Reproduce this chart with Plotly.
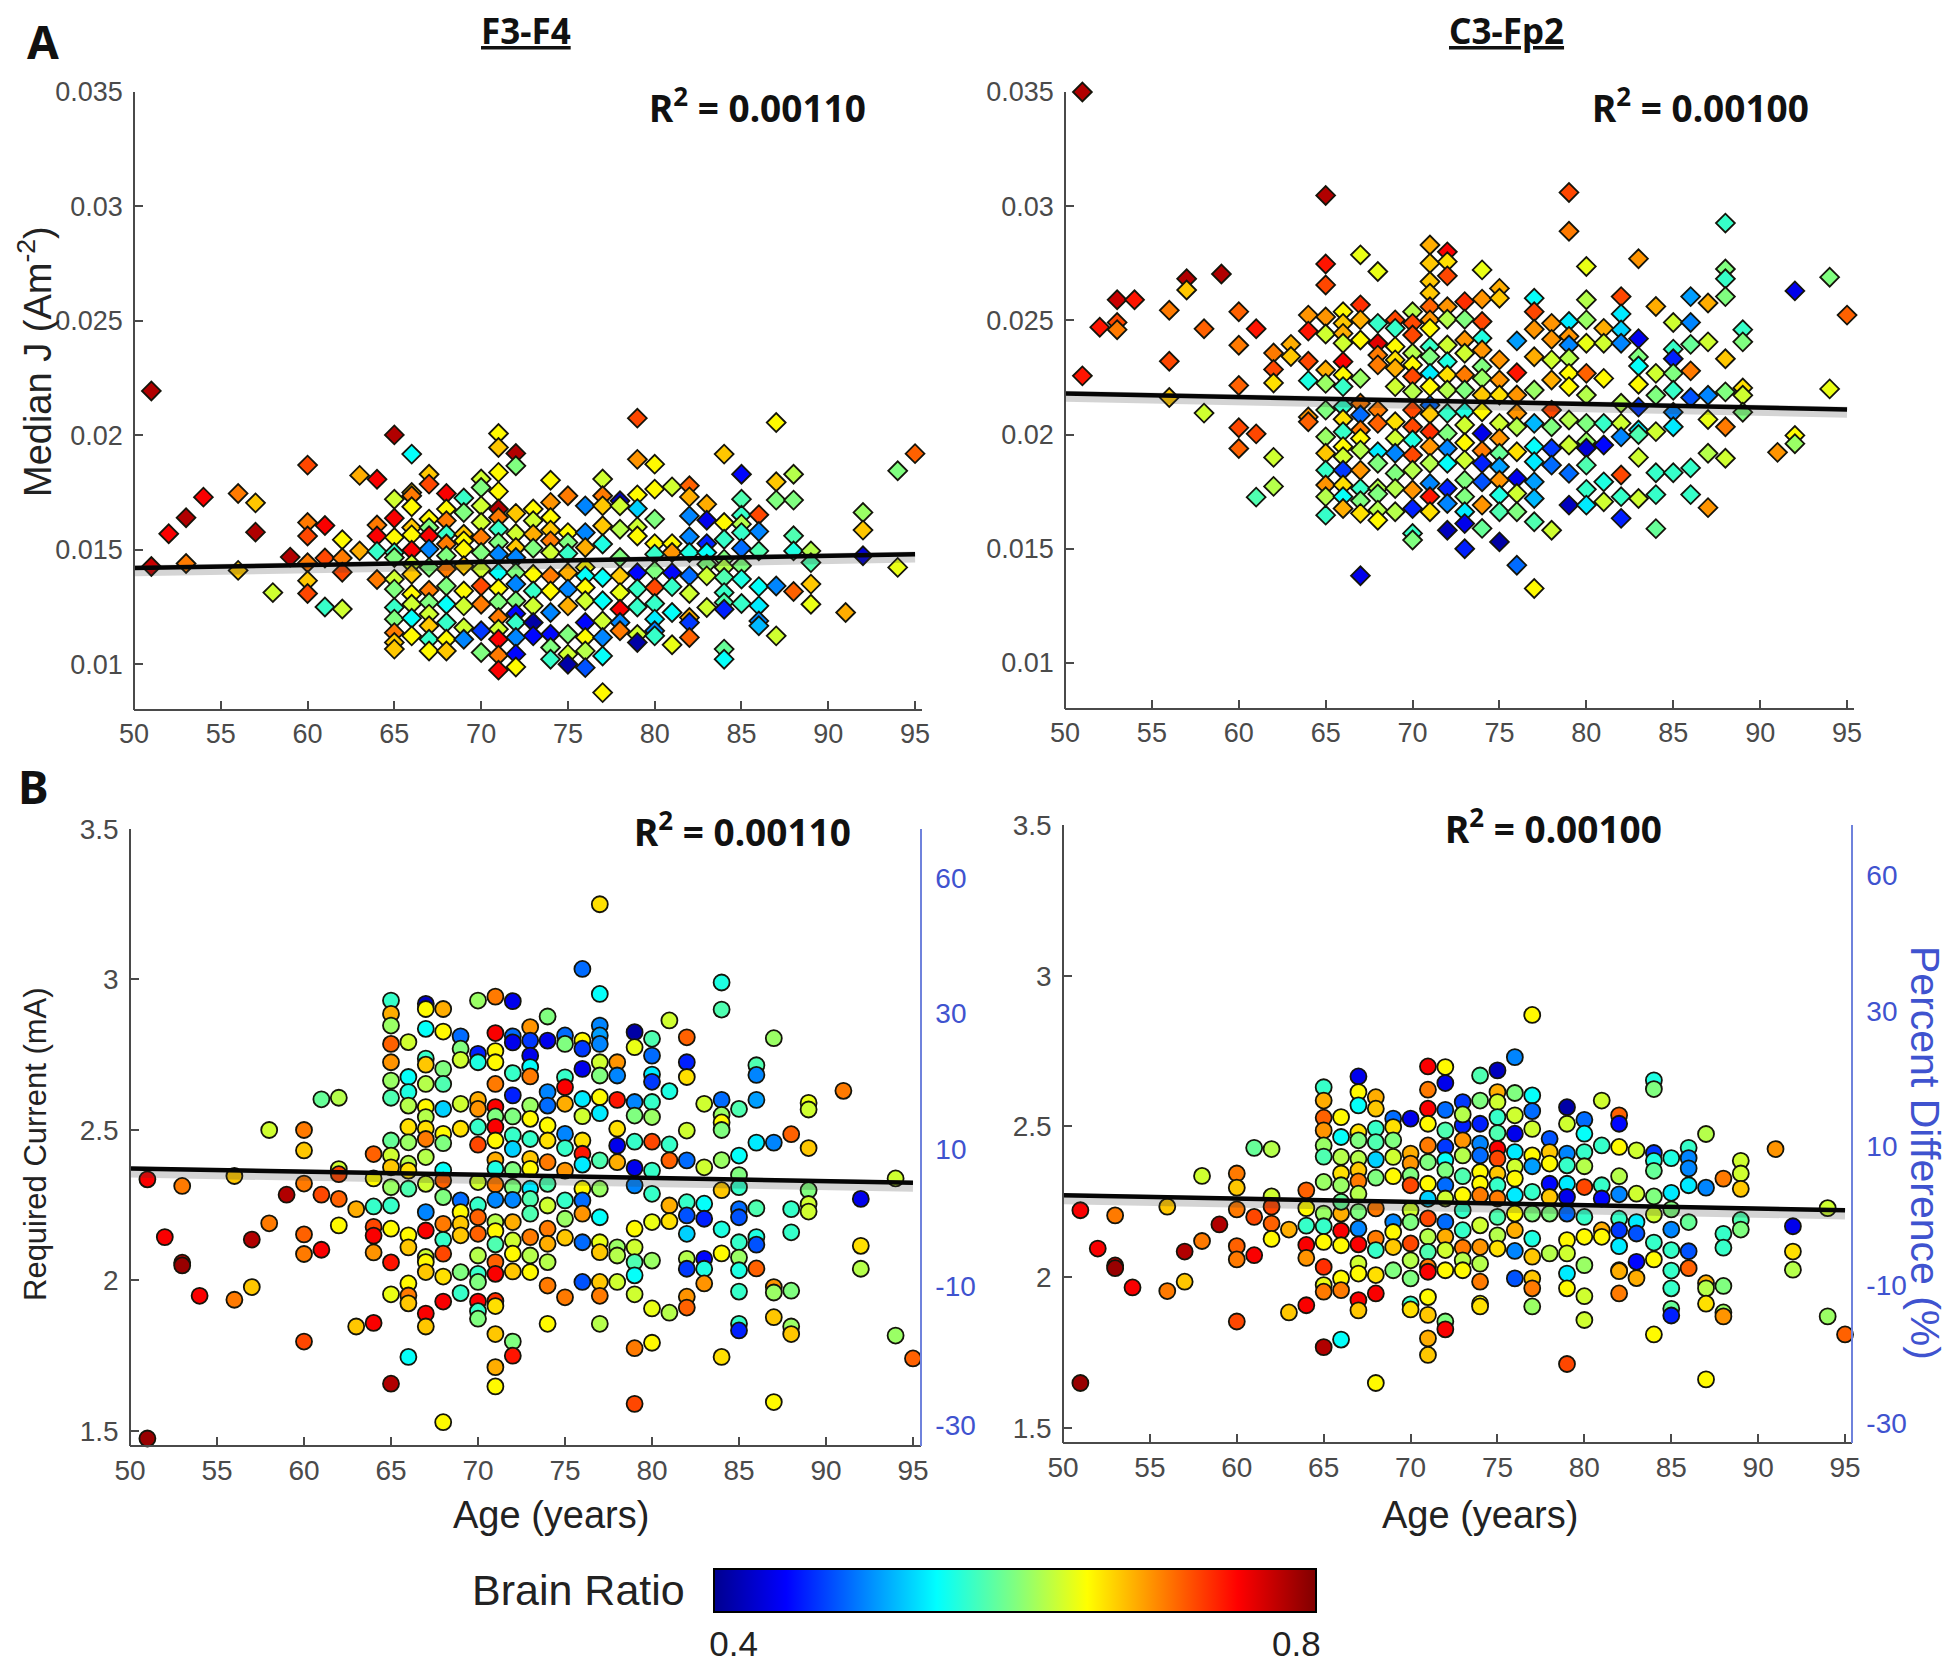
import plotly.graph_objects as go

# ---------- F3-F4 median J (values in 1e-3 A/m2) ----------
f3_age = [
51,51,
52,
53,53,
54,
56,56,
57,57,
58,
59,
60,60,60,60,60,60,
61,61,61,
62,62,62,62,
63,63,
64,64,64,64,64,
65,65,65,65,65,65,65,65,65,65,65,65,65,
66,66,66,66,66,66,66,66,66,66,66,66,66,
67,67,67,67,67,67,67,67,67,67,67,67,67,
68,68,68,68,68,68,68,68,68,68,68,68,
69,69,69,69,69,69,69,69,69,69,
70,70,70,70,70,70,70,70,70,70,70,
71,71,71,71,71,71,71,71,71,71,71,71,71,71,71,71,71,
72,72,72,72,72,72,72,72,72,72,72,72,72,72,
73,73,73,73,73,73,73,73,73,
74,74,74,74,74,74,74,74,74,74,74,74,
75,75,75,75,75,75,75,75,75,75,
76,76,76,76,76,76,76,76,76,76,76,
77,77,77,77,77,77,77,77,77,77,77,
78,78,78,78,78,78,78,78,78,
79,79,79,79,79,79,79,79,79,79,79,
80,80,80,80,80,80,80,80,80,80,80,
81,81,81,81,81,81,81,
82,82,82,82,82,82,82,82,82,82,
83,83,83,83,83,83,83,
84,84,84,84,84,84,84,84,84,84,84,
85,85,85,85,85,85,85,85,85,
86,86,86,86,86,86,86,
87,87,87,87,87,
88,88,88,88,88,
89,89,89,89,
91,
92,92,92,
94,94,
95]
f3_j = [
21.94,14.27,
15.7,
16.4,14.4,
17.3,
17.46,14.1,
17.05,15.77,
13.13,
14.68,
18.7,16.19,15.6,14.43,13.65,13.09,
16.06,14.64,12.5,
15.44,14.64,14.02,12.41,
18.25,14.95,
18.08,16.08,15.6,14.93,13.7,
20.02,17.21,16.38,15.54,14.88,14.66,13.72,13.28,12.48,11.97,11.38,10.95,10.66,
19.18,17.5,17.36,16.88,15.97,15.65,14.98,14.37,13.93,13.06,12.62,12.01,11.24,
18.3,17.87,16.34,15.97,15.61,15.03,14.23,13.23,12.7,12.19,11.68,11.09,10.58,
17.46,16.78,16.27,15.68,15.25,14.74,14.15,13.42,12.62,11.82,11.09,10.58,
17.26,16.63,15.68,15.39,15.03,14.3,13.2,12.55,11.6,11.09,
18.09,17.72,16.92,16.19,15.54,14.88,14.15,13.42,12.62,11.46,10.51,
20.08,19.47,18.38,17.55,16.78,16.41,15.9,15.32,14.81,14.0,13.31,12.72,12.04,11.53,11.09,10.39,9.74,
19.21,18.67,16.59,15.71,15.1,14.66,14.0,13.5,12.77,12.21,11.82,11.17,10.44,9.88,
16.78,16.27,15.68,15.07,13.93,13.2,12.55,11.82,11.24,
18.04,17.07,16.41,15.86,15.39,14.88,13.86,13.2,12.26,11.31,10.73,10.22,
17.36,15.75,15.32,14.84,14.0,13.28,12.55,11.31,10.44,10.0,
16.92,15.75,15.1,14.23,13.86,13.35,12.77,11.82,11.17,10.58,9.85,
18.09,17.36,16.92,16.05,15.25,13.79,12.77,11.89,11.17,10.36,8.76,
17.14,16.92,15.9,14.66,13.86,13.13,12.4,11.82,11.46,
20.75,18.95,17.4,16.8,16.0,15.6,14.0,13.3,12.5,11.3,10.95,
18.74,17.65,16.34,15.27,14.81,14.08,13.35,12.65,11.97,11.46,11.24,
17.75,15.27,14.88,14.0,13.39,12.26,10.85,
17.8,17.31,16.48,15.57,14.88,13.86,13.09,12.04,11.82,11.17,
16.99,16.29,15.27,14.88,14.37,13.86,12.48,
19.18,16.19,15.46,14.59,14.23,13.79,13.13,12.7,12.4,10.66,10.22,
18.3,17.21,16.51,16.12,15.75,15.06,14.3,13.72,12.65,
16.53,15.8,14.95,13.39,12.55,11.89,11.68,
20.56,17.97,17.17,13.42,11.24,
18.3,17.17,15.61,14.95,13.18,
14.95,14.44,13.5,12.62,
12.26,
16.63,15.86,14.74,
18.45,14.23,
19.2]
f3_ratio = [
.78,.77,
.75,
.78,.70,
.75,
.70,.67,
.67,.78,
.63,
.78,
.72,.70,.72,.70,.67,.72,
.75,.72,.57,
.65,.70,.72,.63,
.68,.68,
.75,.70,.75,.57,.70,
.78,.63,.75,.65,.57,.60,.63,.60,.57,.60,.70,.67,.67,
.55,.67,.70,.65,.67,.65,.75,.63,.67,.65,.63,.55,.65,
.67,.72,.65,.60,.75,.50,.60,.70,.60,.63,.67,.57,.65,
.75,.65,.70,.57,.70,.60,.70,.60,.55,.57,.65,.67,
.57,.60,.67,.65,.65,.67,.65,.63,.63,.50,
.63,.60,.63,.63,.70,.60,.63,.72,.70,.47,.60,
.65,.67,.65,.65,.78,.70,.57,.60,.50,.55,.65,.60,.70,.63,.75,.70,.75,
.78,.60,.67,.63,.67,.50,.60,.50,.60,.45,.57,.50,.45,.65,
.65,.63,.68,.60,.65,.57,.63,.41,.45,
.65,.69,.65,.67,.70,.63,.70,.65,.50,.45,.60,.57,
.70,.65,.60,.57,.68,.50,.68,.60,.63,.41,
.50,.50,.68,.65,.55,.65,.63,.45,.65,.62,.48,
.63,.70,.67,.67,.56,.55,.55,.63,.50,.55,.65,
.42,.63,.62,.60,.67,.64,.75,.50,.70,
.72,.69,.65,.53,.63,.65,.45,.57,.57,.63,.41,
.65,.65,.60,.65,.57,.60,.72,.57,.54,.50,.57,
.63,.65,.69,.45,.57,.55,.64,
.71,.68,.50,.50,.56,.49,.63,.68,.47,.71,
.68,.44,.46,.55,.60,.63,.63,
.67,.65,.57,.60,.62,.58,.57,.58,.46,.59,.55,
.45,.58,.57,.62,.57,.49,.60,.56,.57,
.72,.50,.58,.55,.54,.50,.52,
.65,.67,.60,.50,.63,
.62,.60,.58,.56,.71,
.62,.58,.67,.64,
.68,
.61,.67,.43,
.60,.64,
.71]

# ---------- C3-Fp2 median J (values in 1e-3 A/m2) ----------
c3_age = [
51,51,
52,
53,53,53,
54,
56,56,56,
57,57,
58,58,
59,
60,60,60,60,60,
61,61,61,
62,62,62,62,62,
63,63,
64,64,64,64,64,64,
65,65,65,65,65,65,65,65,65,65,65,65,65,65,
66,66,66,66,66,66,66,66,66,66,66,66,66,66,66,66,
67,67,67,67,67,67,67,67,67,67,67,67,67,67,67,
68,68,68,68,68,68,68,68,68,68,68,68,68,
69,69,69,69,69,69,69,69,69,69,69,69,
70,70,70,70,70,70,70,70,70,70,70,70,70,70,70,70,
71,71,71,71,71,71,71,71,71,71,71,71,71,71,71,71,71,71,71,
72,72,72,72,72,72,72,72,72,72,72,72,72,72,72,72,
73,73,73,73,73,73,73,73,73,73,73,73,73,73,73,
74,74,74,74,74,74,74,74,74,74,74,74,74,74,74,
75,75,75,75,75,75,75,75,75,75,75,75,75,
76,76,76,76,76,76,76,76,76,76,
77,77,77,77,77,77,77,77,77,77,77,77,
78,78,78,78,78,78,78,78,78,
79,79,79,79,79,79,79,79,79,79,79,79,
80,80,80,80,80,80,80,80,80,80,80,80,
81,81,81,81,81,81,81,
82,82,82,82,82,82,82,82,82,82,
83,83,83,83,83,83,83,83,83,83,
84,84,84,84,84,84,84,
85,85,85,85,85,85,85,85,
86,86,86,86,86,86,86,
87,87,87,87,87,87,
88,88,88,88,88,88,88,88,
89,89,89,89,89,
91,
92,92,92,
94,94,
95]
c3_j = [
35.0,22.57,
24.7,
25.9,24.91,24.59,
25.9,
25.44,23.21,21.62,
26.82,26.33,
24.63,20.94,
27.03,
25.38,23.91,22.15,20.3,19.39,
24.63,20.03,17.26,
23.57,22.85,22.26,19.0,17.73,
23.95,23.42,
25.23,24.53,23.21,22.36,20.77,20.56,
30.47,27.47,26.55,25.15,24.4,22.83,22.24,21.07,19.9,19.18,18.44,17.79,17.28,16.47,
25.38,24.87,24.43,24.0,23.19,22.61,22.1,21.22,20.67,20.12,19.47,19.03,18.44,17.79,17.28,16.76,
27.87,25.68,25.02,24.14,22.46,21.37,20.86,20.2,19.83,19.32,18.44,17.64,17.1,16.55,13.82,
27.14,24.87,24.0,23.48,23.05,21.07,20.49,19.25,18.74,17.64,17.4,16.69,16.25,
25.02,24.65,23.85,23.27,22.9,22.1,20.56,19.83,19.18,18.3,17.64,16.62,
25.38,24.87,24.36,23.56,23.05,22.54,21.88,21.07,20.34,19.76,19.1,18.44,17.57,16.76,15.67,15.38,
28.3,27.5,26.7,26.19,25.6,25.02,24.65,23.85,23.41,22.68,22.1,21.29,20.9,20.12,19.47,18.74,17.86,17.28,16.62,
28.0,27.57,26.95,25.6,25.05,23.92,23.19,22.61,21.95,20.93,20.05,19.39,18.74,17.64,16.98,15.81,
25.82,25.05,24.14,23.56,22.61,21.95,21.0,20.42,19.64,18.88,18.0,17.28,16.62,16.1,15.0,
27.21,25.93,24.95,24.22,23.7,22.97,22.46,21.73,21.0,20.05,19.29,18.74,17.93,16.91,15.89,
26.4,25.97,23.27,22.39,21.73,20.49,19.83,19.18,18.59,18.0,17.35,16.62,15.3,
24.1,22.71,21.73,20.93,20.34,19.25,18.08,17.42,16.62,14.28,
25.97,25.38,24.61,23.41,21.95,20.49,19.47,18.81,17.93,17.2,16.18,13.26,
24.87,24.17,23.27,22.39,21.07,20.34,19.39,18.66,15.81,
30.6,28.9,24.95,24.3,23.92,23.34,22.68,22.1,20.64,19.54,18.3,16.91,
27.36,25.9,25.02,24.0,22.68,21.73,20.49,19.69,19.4,18.66,17.6,16.91,
24.65,24.0,22.46,20.49,19.54,17.93,17.06,
26.04,25.28,24.58,24.0,21.37,20.49,19.9,18.23,17.28,16.33,
27.7,24.2,23.4,23.0,22.2,21.2,20.2,20.0,19.0,17.2,
25.61,22.68,21.72,20.13,18.33,17.37,15.88,
24.91,23.74,23.32,22.68,21.94,20.98,20.34,18.33,
26.04,24.91,23.95,22.79,21.62,18.54,17.37,
25.76,24.06,21.72,20.66,19.18,16.8,
29.26,27.25,26.82,26.04,23.32,21.87,20.34,18.96,
24.59,24.06,22.04,21.72,20.98,
19.22,
26.29,19.96,19.6,
26.89,22.0,
25.23]
c3_ratio = [
.78,.74,
.74,
.77,.72,.70,
.74,
.70,.72,.67,
.78,.67,
.71,.63,
.78,
.71,.70,.71,.72,.71,
.74,.72,.58,
.70,.72,.66,.63,.62,
.68,.67,
.69,.74,.72,.56,.69,.71,
.78,.74,.72,.69,.63,.68,.61,.60,.61,.67,.57,.69,.62,.57,
.65,.67,.68,.63,.75,.65,.57,.57,.66,.57,.65,.63,.47,.66,.55,.68,
.64,.73,.68,.65,.61,.70,.49,.70,.65,.62,.69,.57,.60,.66,.44,
.64,.57,.76,.70,.70,.70,.71,.54,.60,.62,.60,.62,.65,
.72,.57,.65,.66,.68,.63,.66,.63,.50,.60,.62,.62,
.62,.72,.72,.62,.65,.72,.62,.72,.72,.56,.72,.62,.69,.46,.57,.60,
.68,.67,.67,.67,.71,.69,.65,.57,.60,.54,.65,.49,.67,.73,.69,.62,.50,.74,.66,
.75,.66,.72,.69,.62,.63,.56,.66,.62,.57,.60,.50,.55,.46,.50,.42,
.73,.60,.69,.63,.70,.60,.56,.63,.65,.63,.60,.60,.54,.44,.46,
.64,.69,.72,.56,.69,.60,.61,.67,.65,.44,.70,.46,.48,.69,.59,
.68,.67,.69,.69,.66,.63,.69,.59,.51,.69,.56,.58,.41,
.51,.74,.69,.69,.62,.66,.44,.63,.60,.49,
.55,.72,.69,.68,.61,.52,.55,.54,.51,.52,.58,.65,
.69,.69,.63,.68,.72,.60,.47,.49,.63,
.72,.70,.54,.69,.50,.62,.65,.65,.62,.63,.49,.42,
.64,.62,.61,.64,.71,.62,.60,.61,.43,.58,.57,.54,
.68,.63,.65,.57,.45,.56,.63,
.72,.54,.53,.50,.62,.63,.50,.72,.57,.46,
.69,.44,.60,.55,.65,.47,.54,.58,.63,.63,
.68,.63,.60,.63,.57,.57,.59,
.63,.57,.46,.60,.57,.50,.54,.57,
.51,.50,.59,.70,.48,.57,.57,
.68,.63,.50,.64,.62,.69,
.57,.60,.57,.60,.67,.60,.70,.63,
.57,.60,.66,.63,.60,
.69,
.44,.65,.61,
.60,.64,
.71]

# ---------- F3-F4 required current (mA) ----------
f3_cur_age = [
51,51,
52,
53,53,53,
54,
56,56,
57,57,
58,58,
59,
60,60,60,60,60,60,
61,61,61,
62,62,62,62,62,
63,63,
64,64,64,64,64,64,64,
65,65,65,65,65,65,65,65,65,65,65,65,65,65,65,65,
66,66,66,66,66,66,66,66,66,66,66,66,66,66,66,
67,67,67,67,67,67,67,67,67,67,67,67,67,67,67,67,67,67,67,
68,68,68,68,68,68,68,68,68,68,68,68,68,68,68,68,
69,69,69,69,69,69,69,69,69,69,69,
70,70,70,70,70,70,70,70,70,70,70,70,70,70,70,70,70,
71,71,71,71,71,71,71,71,71,71,71,71,71,71,71,71,71,71,71,71,71,71,71,
72,72,72,72,72,72,72,72,72,72,72,72,72,72,72,72,72,
73,73,73,73,73,73,73,73,73,73,73,73,73,73,73,73,
74,74,74,74,74,74,74,74,74,74,74,74,74,74,
75,75,75,75,75,75,75,75,75,75,75,75,
76,76,76,76,76,76,76,76,76,76,76,76,76,76,
77,77,77,77,77,77,77,77,77,77,77,77,77,77,77,77,77,
78,78,78,78,78,78,78,78,78,
79,79,79,79,79,79,79,79,79,79,79,79,79,79,
80,80,80,80,80,80,80,80,80,80,80,80,80,
81,81,81,81,81,81,81,
82,82,82,82,82,82,82,82,82,82,82,82,
83,83,83,83,83,83,83,
84,84,84,84,84,84,84,84,84,84,84,
85,85,85,85,85,85,85,85,85,85,85,85,
86,86,86,86,86,86,86,86,
87,87,87,87,87,87,
88,88,88,88,88,88,
89,89,89,89,89,89,
91,
92,92,92,
94,94,
95]
f3_cur = [
2.336,1.475,
2.144,
2.314,2.059,2.05,
1.949,
2.347,1.936,
2.136,1.978,
2.5,2.19,
2.285,
2.5,2.432,2.322,2.153,2.088,1.797,
2.602,2.285,2.102,
2.607,2.37,2.353,2.271,2.183,
2.237,1.847,
2.42,2.339,2.246,2.178,2.149,2.093,1.859,
2.93,2.886,2.847,2.786,2.725,2.664,2.607,2.465,2.415,2.376,2.31,2.249,2.172,2.06,1.954,1.657,
2.792,2.676,2.626,2.581,2.51,2.459,2.388,2.365,2.305,2.15,2.11,1.99,1.95,1.924,1.746,
2.919,2.902,2.836,2.737,2.717,2.653,2.576,2.543,2.504,2.47,2.41,2.321,2.227,2.166,2.078,2.061,2.028,1.89,1.847,
2.902,2.827,2.703,2.653,2.57,2.487,2.456,2.366,2.332,2.277,2.188,2.135,2.089,2.013,1.93,1.529,
2.811,2.77,2.733,2.587,2.504,2.266,2.227,2.188,2.15,2.028,1.958,
2.93,2.753,2.725,2.6,2.57,2.51,2.451,2.327,2.25,2.21,2.155,2.083,2.022,1.995,1.93,1.898,1.873,
2.943,2.822,2.762,2.725,2.653,2.576,2.545,2.51,2.465,2.4,2.371,2.319,2.268,2.194,2.164,2.12,2.061,2.022,1.932,1.915,1.822,1.712,1.648,
2.928,2.811,2.791,2.689,2.615,2.545,2.482,2.437,2.367,2.31,2.268,2.194,2.133,2.089,2.03,1.797,1.75,
2.842,2.797,2.747,2.709,2.678,2.581,2.537,2.47,2.404,2.371,2.305,2.271,2.222,2.144,2.083,2.028,
2.877,2.797,2.626,2.581,2.515,2.465,2.393,2.321,2.249,2.172,2.122,2.061,1.983,1.856,
2.814,2.786,2.675,2.642,2.587,2.487,2.44,2.365,2.266,2.205,2.142,1.944,
3.035,2.797,2.77,2.703,2.603,2.546,2.465,2.421,2.385,2.305,2.266,2.222,2.127,1.995,
2.952,2.847,2.814,2.786,2.725,2.681,2.609,2.556,2.399,2.305,2.21,2.127,2.094,1.995,1.949,1.856,3.25,
2.725,2.681,2.6,2.504,2.448,2.393,2.11,2.083,1.995,
2.825,2.775,2.593,2.548,2.461,2.374,2.316,2.172,2.11,2.061,2.017,1.954,1.775,1.59,
2.803,2.747,2.684,2.66,2.593,2.543,2.461,2.365,2.288,2.194,2.066,1.907,1.793,
2.864,2.629,2.452,2.399,2.249,2.197,1.893,
2.808,2.725,2.676,2.498,2.399,2.26,2.216,2.155,2.072,2.039,1.946,1.91,
2.587,2.376,2.255,2.205,2.072,2.039,1.99,
2.99,2.9,2.6,2.55,2.525,2.5,2.4,2.3,2.17,2.09,1.746,
2.57,2.415,2.35,2.31,2.237,2.21,2.127,2.076,2.034,1.963,1.856,1.834,
2.715,2.683,2.6,2.458,2.24,2.144,2.119,2.04,
2.805,2.458,1.978,1.96,1.878,1.596,
2.486,2.237,2.16,1.966,1.847,1.822,
2.59,2.568,2.44,2.3,2.254,2.229,
2.63,
2.271,2.115,2.039,
2.339,1.817,
1.741]
f3_cur_ratio = [
.75,.79,
.75,
.70,.78,.79,
.75,
.67,.70,
.78,.67,
.63,.70,
.78,
.70,.67,.70,.71,.70,.72,
.59,.72,.75,
.62,.63,.72,.71,.65,
.68,.67,
.71,.65,.57,.72,.75,.69,.75,
.57,.68,.61,.71,.69,.61,.58,.59,.63,.67,.61,.57,.65,.74,.64,.78,
.63,.55,.56,.62,.66,.61,.62,.66,.58,.65,.67,.65,.70,.67,.55,
.42,.65,.55,.57,.67,.62,.65,.62,.66,.70,.62,.63,.50,.75,.63,.65,.67,.75,.67,
.68,.65,.60,.58,.53,.65,.60,.55,.71,.60,.70,.57,.72,.66,.75,.65,
.49,.60,.63,.63,.66,.49,.65,.67,.67,.60,.57,
.61,.46,.56,.68,.69,.57,.72,.63,.57,.71,.71,.62,.57,.60,.75,.57,.60,
.70,.75,.65,.65,.70,.75,.60,.75,.65,.68,.56,.70,.50,.62,.65,.58,.71,.75,.73,.66,.67,.68,.65,
.44,.49,.44,.57,.46,.60,.57,.53,.60,.60,.50,.68,.63,.65,.67,.60,.74,
.69,.47,.44,.55,.70,.61,.65,.57,.67,.65,.54,.58,.58,.70,.62,.65,
.60,.44,.50,.49,.65,.66,.70,.58,.63,.70,.68,.62,.70,.65,
.49,.60,.57,.75,.68,.50,.57,.69,.57,.61,.67,.70,
.49,.65,.47,.44,.54,.63,.66,.74,.54,.65,.49,.69,.49,.48,
.55,.50,.51,.50,.63,.60,.65,.54,.58,.61,.55,.64,.67,.67,.70,.62,.66,
.69,.50,.74,.66,.44,.68,.61,.62,.63,
.41,.64,.50,.60,.57,.44,.50,.65,.63,.58,.55,.63,.70,.72,
.58,.49,.54,.47,.57,.61,.72,.57,.57,.64,.61,.64,.65,
.63,.56,.57,.71,.68,.66,.62,
.71,.46,.66,.63,.49,.57,.48,.53,.62,.47,.69,.71,
.63,.63,.55,.46,.45,.56,.69,
.56,.58,.49,.61,.65,.60,.61,.67,.56,.65,.66,
.58,.55,.60,.57,.49,.48,.57,.61,.56,.57,.57,.46,
.58,.50,.51,.54,.58,.56,.48,.71,
.61,.50,.69,.61,.67,.65,
.71,.57,.57,.60,.61,.67,
.64,.63,.67,.60,.63,.63,
.70,
.44,.66,.62,
.63,.61,
.71]

# ---------- C3-Fp2 required current (mA) ----------
c3_cur_age = [
51,51,
52,
53,53,53,
54,
56,56,
57,57,
58,58,
59,
60,60,60,60,60,60,
61,61,61,
62,62,62,62,62,
63,63,
64,64,64,64,64,64,
65,65,65,65,65,65,65,65,65,65,65,65,65,65,
66,66,66,66,66,66,66,66,66,66,66,66,
67,67,67,67,67,67,67,67,67,67,67,67,67,67,67,67,
68,68,68,68,68,68,68,68,68,68,68,68,
69,69,69,69,69,69,69,69,69,
70,70,70,70,70,70,70,70,70,70,70,70,
71,71,71,71,71,71,71,71,71,71,71,71,71,71,71,71,71,
72,72,72,72,72,72,72,72,72,72,72,72,72,72,72,
73,73,73,73,73,73,73,73,73,73,73,73,
74,74,74,74,74,74,74,74,74,74,74,74,74,74,
75,75,75,75,75,75,75,75,75,75,75,75,75,
76,76,76,76,76,76,76,76,76,76,76,76,
77,77,77,77,77,77,77,77,77,77,77,77,77,
78,78,78,78,78,78,78,
79,79,79,79,79,79,79,79,79,79,79,79,
80,80,80,80,80,80,80,80,80,80,
81,81,81,81,81,81,
82,82,82,82,82,82,82,82,82,82,82,
83,83,83,83,83,83,
84,84,84,84,84,84,84,84,84,84,
85,85,85,85,85,85,85,85,85,
86,86,86,86,86,86,86,
87,87,87,87,87,87,
88,88,88,88,88,88,
89,89,89,89,89,
91,
92,92,92,
94,94,
95]
c3_cur = [
2.222,1.649,
2.095,
2.205,2.039,2.03,
1.966,
2.234,1.954,
2.085,1.985,
2.336,2.12,
2.175,
2.344,2.297,2.225,2.103,2.059,1.853,
2.429,2.2,2.073,
2.425,2.268,2.234,2.178,2.127,
2.158,1.883,
2.288,2.229,2.171,2.107,2.064,1.907,
2.63,2.586,2.529,2.487,2.437,2.316,2.211,2.169,2.117,2.034,1.974,1.952,2.4,1.768,
2.531,2.465,2.399,2.344,2.305,2.211,2.154,2.106,1.996,1.957,2.25,1.793,
2.666,2.614,2.57,2.481,2.454,2.393,2.355,2.318,2.277,2.217,2.161,2.109,2.045,2.012,1.924,1.89,
2.597,2.559,2.493,2.448,2.39,2.33,2.228,2.128,2.09,2.007,1.946,1.649,
2.526,2.498,2.454,2.399,2.335,2.183,2.15,2.1,2.023,
2.526,2.41,2.377,2.338,2.305,2.222,2.183,2.112,2.056,1.996,1.91,1.893,
2.699,2.622,2.559,2.509,2.437,2.382,2.31,2.195,2.134,2.084,2.034,2.018,1.934,1.875,1.797,1.742,2.26,
2.697,2.644,2.555,2.487,2.432,2.388,2.355,2.305,2.261,2.183,2.134,2.09,2.023,1.853,1.827,
2.581,2.504,2.454,2.404,2.335,2.272,2.222,2.156,2.098,2.056,2.023,2.54,
2.669,2.586,2.509,2.443,2.404,2.349,2.31,2.272,2.172,2.1,2.045,1.985,1.912,1.903,
2.686,2.614,2.581,2.531,2.478,2.426,2.393,2.343,2.305,2.261,2.2,2.139,2.095,
2.73,2.611,2.537,2.476,2.415,2.366,2.327,2.272,2.211,2.156,2.087,1.996,
2.603,2.551,2.492,2.404,2.368,2.283,2.211,2.128,2.068,1.996,1.963,1.903,2.87,
2.459,2.415,2.377,2.31,2.266,2.211,2.079,
2.564,2.509,2.41,2.371,2.31,2.266,2.211,2.123,2.079,2.012,1.963,1.712,
2.522,2.476,2.415,2.368,2.299,2.2,2.134,2.04,1.937,1.858,
2.586,2.437,2.305,2.261,2.156,2.134,
2.537,2.509,2.432,2.335,2.275,2.194,2.156,2.103,2.023,2.02,1.946,
2.421,2.277,2.183,2.145,2.051,1.997,
2.653,2.624,2.412,2.386,2.353,2.268,2.208,2.115,2.059,1.81,
2.395,2.28,2.225,2.158,2.09,2.022,1.963,1.895,1.873,
2.429,2.395,2.361,2.305,2.183,2.086,2.03,
2.475,2.297,1.98,1.963,1.912,1.661,
2.327,2.144,2.098,1.971,1.883,1.87,
2.386,2.344,2.293,2.19,2.158,
2.425,
2.169,2.085,2.025,
2.229,1.87,
1.81]
c3_cur_ratio = [
.75,.79,
.75,
.70,.78,.79,
.75,
.67,.70,
.78,.67,
.63,.70,
.78,
.70,.67,.70,.71,.70,.72,
.59,.72,.75,
.62,.63,.72,.71,.65,
.68,.67,
.71,.65,.57,.75,.69,.75,
.57,.68,.71,.69,.61,.61,.61,.57,.65,.73,.64,.70,.58,.78,
.65,.55,.62,.66,.61,.68,.75,.65,.65,.70,.59,.55,
.44,.65,.55,.66,.60,.62,.67,.70,.62,.60,.50,.75,.63,.65,.75,.67,
.68,.67,.57,.58,.53,.60,.70,.70,.57,.66,.75,.65,
.49,.66,.60,.63,.65,.50,.65,.67,.60,
.44,.68,.69,.60,.72,.63,.60,.72,.62,.60,.57,.66,
.75,.70,.75,.65,.70,.60,.65,.72,.62,.58,.70,.75,.65,.67,.68,.67,.53,
.65,.44,.49,.58,.47,.55,.60,.49,.63,.49,.68,.63,.65,.60,.75,
.47,.46,.69,.62,.58,.65,.57,.57,.70,.62,.65,.62,
.58,.60,.46,.50,.49,.65,.65,.70,.63,.69,.62,.70,.65,.66,
.42,.68,.63,.57,.58,.75,.72,.67,.57,.70,.58,.62,.66,
.50,.60,.63,.44,.54,.63,.65,.54,.65,.68,.50,.48,
.55,.49,.63,.65,.51,.57,.60,.56,.67,.67,.70,.61,.65,
.48,.67,.65,.45,.67,.60,.62,
.41,.63,.50,.57,.54,.44,.49,.65,.63,.54,.65,.72,
.49,.55,.57,.62,.72,.57,.65,.61,.63,.63,
.63,.57,.57,.45,.68,.65,
.71,.45,.65,.62,.50,.57,.47,.54,.44,.68,.70,
.63,.63,.54,.48,.45,.68,
.56,.60,.47,.56,.59,.60,.63,.57,.65,.65,
.56,.54,.60,.50,.57,.57,.57,.59,.46,
.57,.50,.50,.54,.59,.48,.71,
.62,.50,.68,.62,.66,.65,
.70,.57,.57,.60,.61,.69,
.63,.63,.67,.58,.60,
.69,
.44,.66,.62,
.63,.61,
.71]

# ---------- shared axis content ----------
age_ticks = [50, 55, 60, 65, 70, 75, 80, 85, 90, 95]
j_ticks = [0.01, 0.015, 0.02, 0.025, 0.03, 0.035]
j_labels = ["0.01", "0.015", "0.02", "0.025", "0.03", "0.035"]
cur_ticks = [1.5, 2, 2.5, 3, 3.5]
cur_labels = ["1.5", "2", "2.5", "3", "3.5"]
pct_labels = ["60", "30", "10", "-10", "-30"]
pct_at_left = [3.337, 2.889, 2.437, 1.982, 1.52]
pct_at_right = [3.334, 2.882, 2.434, 1.975, 1.517]
trend_age = [50, 95]
trend_f3_j = [14.2, 14.8]
trend_c3_j = [21.8, 21.1]
trend_f3_cur = [2.372, 2.325]
trend_c3_cur = [2.272, 2.222]

W, H = 1950, 1662
def px(x): return x / W
def py(y): return 1 - y / H

GREY = "#4a4a4a"
BLUE = "#3f53cf"
JET = [[0, "rgb(0,0,143)"], [.12, "rgb(0,0,255)"], [.37, "rgb(0,255,255)"], [.5, "rgb(128,255,128)"],
       [.62, "rgb(255,255,0)"], [.87, "rgb(255,0,0)"], [1, "rgb(128,0,0)"]]

fig = go.Figure()

def scatter(xs, ys, cs, sym, size, xa, ya, div=1):
    assert len(xs) == len(ys) == len(cs), (len(xs), len(ys), len(cs))
    fig.add_trace(go.Scatter(
        x=xs, y=[v / div for v in ys], mode="markers", xaxis=xa, yaxis=ya, showlegend=False, cliponaxis=False,
        marker=dict(symbol=sym, size=size, color=cs, coloraxis="coloraxis",
                    line=dict(color="#14140a", width=1.8))))

def trend(xs, ys, xa, ya, div=1, shift=0.0):
    ys = [v / div for v in ys]
    fig.add_trace(go.Scatter(x=xs, y=[v - shift for v in ys], mode="lines", xaxis=xa, yaxis=ya, showlegend=False,
                             line=dict(color="rgba(60,60,60,0.22)", width=11), hoverinfo="skip"))
    fig.add_trace(go.Scatter(x=xs, y=ys, mode="lines", xaxis=xa, yaxis=ya, showlegend=False,
                             line=dict(color="#050505", width=4.5), hoverinfo="skip"))

scatter(f3_age, f3_j, f3_ratio, "diamond", 14.5, "x", "y", 1000)
trend(trend_age, trend_f3_j, "x", "y", 1000, 0.00012)
scatter(c3_age, c3_j, c3_ratio, "diamond", 14.5, "x2", "y2", 1000)
trend(trend_age, trend_c3_j, "x2", "y2", 1000, 0.00012)
scatter(f3_cur_age, f3_cur, f3_cur_ratio, "circle", 16, "x3", "y3")
trend(trend_age, trend_f3_cur, "x3", "y5", 1, 0.012)
scatter(c3_cur_age, c3_cur, c3_cur_ratio, "circle", 16, "x4", "y4")
trend(trend_age, trend_c3_cur, "x4", "y6", 1, 0.012)

def xaxis(x0, x1, x_hi, y_bottom, font):
    return dict(domain=[px(x0), px(x1)], range=[50, x_hi], tickmode="array", tickvals=age_ticks,
                ticks="inside", ticklen=8, tickwidth=1.5, tickcolor=GREY, showline=True, linecolor=GREY, linewidth=1.5,
                showgrid=False, zeroline=False, tickfont=dict(family="Liberation Sans", size=font, color=GREY),
                tickangle=0, position=py(y_bottom), anchor="free")

def yaxis(y_top, y_bottom, rng, tv, tt, font, x_pos):
    return dict(domain=[py(y_bottom), py(y_top)], range=rng, tickmode="array", tickvals=tv, ticktext=tt,
                ticks="inside", ticklen=8, tickwidth=1.5, tickcolor=GREY, showline=True, linecolor=GREY, linewidth=1.5,
                showgrid=False, zeroline=False, tickfont=dict(family="Liberation Sans", size=font, color=GREY),
                anchor="free", position=px(x_pos), ticklabelstandoff=5)

def pct_axis(over, tv, x_pos, y_top, y_bottom):
    return dict(overlaying=over, side="right", domain=[py(y_bottom), py(y_top)], range=[1.45, 3.5], tickmode="array",
                tickvals=tv, ticktext=pct_labels, ticks="", showline=True, linecolor="#6f82dc", linewidth=1.5,
                showgrid=False, zeroline=False, tickfont=dict(family="Liberation Sans", size=28, color=BLUE),
                anchor="free", position=px(x_pos), ticklabelstandoff=8)

def note(text, x, y, size, family="Noto Sans", color="#111111", angle=0):
    return dict(text=text, x=px(x), y=py(y), xref="paper", yref="paper", showarrow=False, xanchor="center",
                yanchor="middle", textangle=angle, font=dict(family=family, size=size, color=color))

ann = [
    note("<b>A</b>", 43, 41, 46), note("<b>B</b>", 33, 786, 46),
    note("<b><u>F3-F4</u></b>", 526, 31, 35), note("<b><u>C3-Fp2</u></b>", 1506, 31, 35),
    note("<b>R<sup>2</sup> = 0.00110</b>", 757, 106, 37),
    note("<b>R<sup>2</sup> = 0.00100</b>", 1700, 106, 37),
    note("<b>R<sup>2</sup> = 0.00110</b>", 742, 829, 37),
    note("<b>R<sup>2</sup> = 0.00100</b>", 1553, 826, 37),
    note("Median J (Am<sup>-2</sup>)", 35, 362, 38, "Liberation Sans", "#222222", -90),
    note("Required Current (mA)", 35, 1144, 31, "Liberation Sans", "#222222", -90),
    note("Percent Difference (%)", 1925, 1153, 41, "Liberation Sans", BLUE, 90),
    note("Age (years)", 551, 1515, 38, "Liberation Sans", "#222222"),
    note("Age (years)", 1480, 1515, 38, "Liberation Sans", "#222222"),
    note("Brain Ratio", 578, 1590, 43, "Liberation Sans", "#222222"),
]

fig.update_layout(
    width=W, height=H, margin=dict(l=0, r=0, t=0, b=0, autoexpand=False), autosize=False,
    paper_bgcolor="white", plot_bgcolor="rgba(0,0,0,0)", showlegend=False,
    xaxis=xaxis(134, 922, 95.4, 710, 27),
    yaxis=yaxis(92, 710, [0.008, 0.035], j_ticks, j_labels, 27, 134),
    xaxis2=xaxis(1065, 1854, 95.4, 708.6, 27),
    yaxis2=yaxis(92, 708.6, [0.008, 0.035], j_ticks, j_labels, 27, 1065),
    xaxis3=xaxis(130, 921, 95.46, 1446, 28),
    yaxis3=yaxis(829, 1446, [1.45, 3.5], cur_ticks, cur_labels, 28, 130),
    xaxis4=xaxis(1063, 1852, 95.4, 1443, 28),
    yaxis4=yaxis(825, 1443, [1.45, 3.5], cur_ticks, cur_labels, 28, 1063),
    yaxis5=pct_axis("y3", pct_at_left, 921, 829, 1446),
    yaxis6=pct_axis("y4", pct_at_right, 1852, 825, 1443),
    coloraxis=dict(cmin=0.4, cmax=0.8, colorscale=JET, colorbar=dict(
        orientation="h", lenmode="pixels", len=602, thicknessmode="pixels", thickness=43,
        x=px(1015), xanchor="center", y=py(1569), yanchor="top", outlinecolor="black", outlinewidth=2,
        borderwidth=0, xpad=0, ypad=0, tickmode="array", tickvals=[0.413, 0.787], ticktext=["0.4", "0.8"], ticks="",
        tickfont=dict(family="Liberation Sans", size=35, color="#222222"))),
    annotations=ann,
    shapes=[
        dict(type="rect", xref="paper", yref="paper", x0=px(714), x1=px(1316), y0=py(1575), y1=py(1568),
             fillcolor="black", line=dict(width=0)),
        dict(type="rect", xref="paper", yref="paper", x0=px(714), x1=px(1316), y0=py(1611), y1=py(1607),
             fillcolor="black", line=dict(width=0)),
    ],
)

fig.write_html("out.html", config={"displayModeBar": False},
               post_script="document.body.style.margin='0';document.body.style.overflow='hidden';")
